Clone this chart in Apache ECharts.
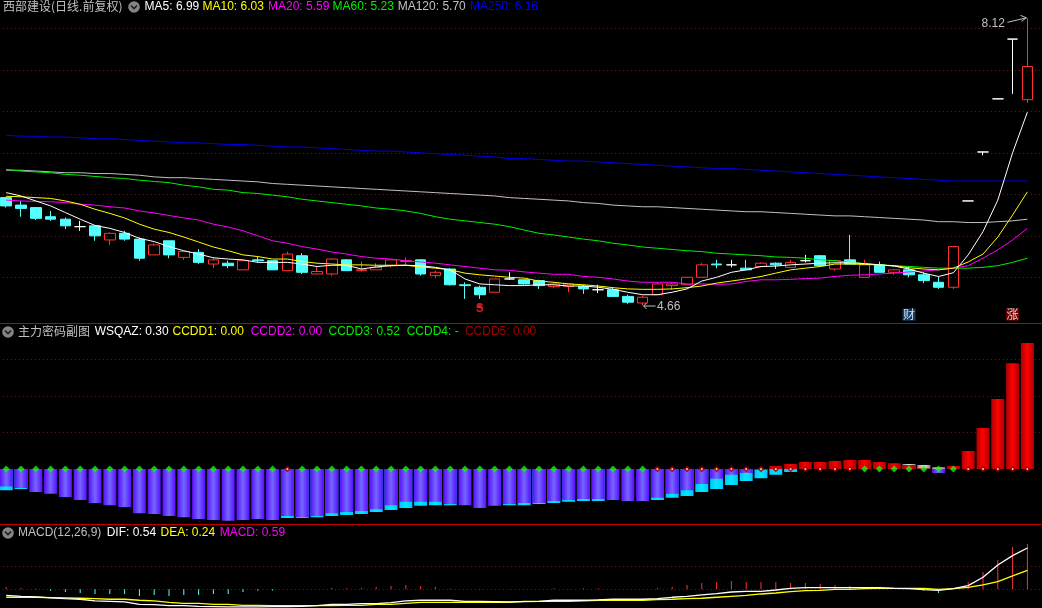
<!DOCTYPE html>
<html><head><meta charset="utf-8">
<style>html,body{margin:0;padding:0;background:#000}#c{width:1042px;height:608px}</style>
<script src="https://cdn.jsdelivr.net/npm/echarts@6/dist/echarts.min.js"></script>
</head><body><div id="c"></div>
<script>
// ---------- data ----------
// [open, close, low, high]
const ohlc = [
[5.96,5.86,5.84,5.97],[5.87,5.83,5.73,5.92],[5.84,5.71,5.69,5.84],[5.73,5.70,5.68,5.80],[5.70,5.62,5.58,5.72],
[5.61,5.61,5.56,5.68],[5.62,5.50,5.44,5.62],[5.45,5.53,5.39,5.54],[5.53,5.46,5.44,5.56],[5.46,5.23,5.20,5.48],
[5.27,5.39,5.27,5.41],[5.44,5.27,5.23,5.44],[5.24,5.31,5.21,5.31],[5.30,5.18,5.16,5.34],[5.16,5.21,5.11,5.24],
[5.17,5.14,5.11,5.20],[5.09,5.20,5.09,5.21],[5.21,5.20,5.18,5.25],[5.20,5.09,5.09,5.20],[5.08,5.28,5.08,5.31],
[5.26,5.06,5.04,5.29],[5.04,5.07,5.04,5.13],[5.04,5.22,5.02,5.23],[5.21,5.08,5.08,5.22],[5.08,5.09,5.07,5.19],
[5.09,5.12,5.09,5.17],[5.14,5.21,5.12,5.21],[5.19,5.20,5.15,5.24],[5.21,5.04,5.02,5.22],[5.02,5.06,4.99,5.08],
[5.10,4.91,4.90,5.11],[4.91,4.90,4.74,4.94],[4.88,4.79,4.74,4.90],[4.82,4.98,4.82,4.98],[4.98,4.98,4.97,5.06],
[4.97,4.92,4.91,4.97],[4.96,4.90,4.86,4.97],[4.89,4.92,4.87,4.94],[4.89,4.92,4.82,4.92],[4.89,4.86,4.80,4.91],
[4.85,4.85,4.81,4.91],[4.85,4.77,4.77,4.87],[4.77,4.70,4.68,4.79],[4.69,4.76,4.66,4.78],[4.79,4.92,4.79,4.94],
[4.90,4.92,4.85,4.94],[4.91,5.00,4.91,5.00],[5.00,5.15,5.00,5.17],[5.16,5.15,5.11,5.21],[5.15,5.15,5.12,5.21],
[5.11,5.09,5.09,5.21],[5.13,5.17,5.12,5.18],[5.17,5.15,5.10,5.18],[5.12,5.18,5.12,5.21],[5.20,5.20,5.18,5.27],
[5.26,5.14,5.13,5.27],[5.10,5.20,5.08,5.21],[5.21,5.16,5.16,5.51],[5.00,5.15,5.00,5.21],[5.15,5.06,5.06,5.19],
[5.06,5.09,5.03,5.10],[5.09,5.03,5.00,5.13],[5.03,4.96,4.93,5.06],[4.94,4.88,4.86,5.01],[4.88,5.37,4.86,5.37],
[5.92,5.92,5.92,5.92],[6.51,6.51,6.47,6.51],[7.15,7.15,7.15,7.15],[7.87,7.87,7.21,7.87],[7.14,7.54,7.10,8.12]
];
const ma5 = [6.02,5.98,5.92,5.86,5.78,5.70,5.625,5.59,5.54,5.47,5.43,5.37,5.32,5.28,5.235,5.22,5.21,5.18,5.18,5.18,
5.16,5.13,5.145,5.145,5.10,5.125,5.14,5.145,5.14,5.12,5.09,4.98,4.92,4.91,4.90,4.90,4.91,4.91,4.895,4.895,
4.88,4.855,4.82,4.79,4.79,4.82,4.86,4.955,5.00,5.06,5.09,5.13,5.135,5.15,5.16,5.17,5.175,5.175,5.165,5.15,
5.135,5.10,5.05,5.01,5.055,5.27,5.55,5.93,6.50,6.99];
const ma10 = [5.976,5.97,5.96,5.95,5.92,5.88,5.82,5.77,5.715,5.64,5.58,5.54,5.485,5.425,5.365,5.32,5.27,5.25,5.22,5.22,
5.19,5.17,5.16,5.15,5.15,5.145,5.145,5.145,5.125,5.11,5.09,5.05,5.03,5.015,5.00,4.99,4.955,4.94,4.92,4.91,
4.895,4.875,4.86,4.855,4.855,4.86,4.875,4.895,4.93,4.955,4.98,5.01,5.05,5.09,5.11,5.13,5.16,5.16,5.155,5.148,
5.14,5.115,5.10,5.09,5.11,5.185,5.28,5.485,5.75,6.03];
const ma20 = [5.93,5.92,5.915,5.91,5.90,5.88,5.87,5.85,5.835,5.80,5.775,5.745,5.715,5.69,5.64,5.606,5.56,5.50,5.44,5.41,
5.37,5.34,5.305,5.28,5.25,5.23,5.22,5.20,5.185,5.17,5.15,5.13,5.11,5.09,5.085,5.065,5.05,5.036,5.036,5.01,
5.00,4.98,4.955,4.94,4.94,4.94,4.92,4.92,4.915,4.92,4.95,4.97,4.97,4.975,4.985,4.99,5.01,5.025,5.03,5.04,
5.05,5.065,5.075,5.09,5.11,5.14,5.23,5.33,5.45,5.59];
const ma60 = [6.30,6.28,6.27,6.26,6.24,6.23,6.215,6.20,6.19,6.17,6.155,6.14,6.11,6.09,6.06,6.05,6.02,6.01,5.99,5.97,
5.94,5.92,5.90,5.88,5.86,5.835,5.82,5.80,5.77,5.73,5.70,5.68,5.66,5.64,5.61,5.57,5.53,5.51,5.485,5.46,
5.44,5.41,5.39,5.365,5.35,5.335,5.32,5.31,5.29,5.28,5.27,5.26,5.245,5.24,5.23,5.21,5.20,5.18,5.165,5.15,
5.14,5.13,5.12,5.11,5.11,5.11,5.12,5.14,5.18,5.23];
const ma120 = [6.29,6.29,6.28,6.27,6.26,6.26,6.25,6.25,6.24,6.23,6.21,6.20,6.20,6.19,6.18,6.17,6.16,6.15,6.13,6.12,
6.11,6.10,6.09,6.08,6.07,6.06,6.05,6.04,6.03,6.02,6.01,6.00,5.99,5.98,5.96,5.95,5.94,5.93,5.92,5.90,
5.89,5.87,5.86,5.85,5.85,5.84,5.83,5.82,5.81,5.80,5.79,5.79,5.78,5.77,5.76,5.75,5.74,5.74,5.73,5.72,
5.71,5.70,5.69,5.67,5.67,5.66,5.66,5.67,5.68,5.70];
const ma250 = [6.71,6.70,6.70,6.69,6.69,6.68,6.67,6.67,6.66,6.65,6.64,6.63,6.62,6.62,6.61,6.60,6.60,6.59,6.58,6.57,
6.57,6.56,6.55,6.54,6.53,6.52,6.52,6.51,6.50,6.49,6.48,6.47,6.46,6.45,6.43,6.43,6.42,6.41,6.40,6.40,
6.39,6.38,6.37,6.36,6.35,6.34,6.33,6.32,6.31,6.31,6.30,6.29,6.28,6.27,6.26,6.25,6.24,6.23,6.22,6.21,
6.20,6.19,6.18,6.17,6.16,6.16,6.16,6.16,6.16,6.16];
// 主力密码副图 columns
const wsPurple = [-.048,-.052,-.063,-.068,-.077,-.085,-.093,-.099,-.104,-.121,-.123,-.129,-.132,-.137,-.140,-.142,-.140,-.137,-.140,-.129,
-.132,-.129,-.121,-.118,-.115,-.110,-.099,-.090,-.090,-.090,-.096,-.099,-.107,-.101,-.096,-.093,-.093,-.088,-.085,-.082,
-.082,-.085,-.088,-.088,-.079,-.068,-.058,-.041,-.027,-.016,-.011,-.003,0,0,0,0,0,0,0,0,
0,0,0,-.011,0,0,0,0,0,0];
const wsCyan = [-.058,-.055,0,0,0,0,0,0,0,0,0,0,0,0,0,0,0,0,0,-.134,
-.134,-.132,-.129,-.126,-.123,-.118,-.112,-.107,-.101,-.099,-.099,0,0,0,-.099,-.099,-.096,-.093,-.090,-.088,
-.088,0,0,0,-.085,-.079,-.074,-.063,-.055,-.044,-.033,-.025,-.016,-.008,0,0,0,0,0,0,
0,0,0,0,0,0,0,0,0,0];
const wsRed = [0,0,0,0,0,0,0,0,0,0,0,0,0,0,0,0,0,0,0,0,
0,0,0,0,0,0,0,0,0,0,0,0,0,0,0,0,0,0,0,0,
0,0,0,0,0,0,0,0,0,0,0,0,.008,.014,.019,.019,.022,.025,.025,.019,
.016,.011,.002,0,.008,.049,.112,.192,.290,.345];
const wsSilver = [0,0,0,0,0,0,0,0,0,0,0,0,0,0,0,0,0,0,0,0,
0,0,0,0,0,0,0,0,0,0,0,0,0,0,0,0,0,0,0,0,
0,0,0,0,0,0,0,0,0,0,0,0,0,0,0,0,0,0,0,0,
0,.014,.011,.005,0,0,0,0,0,0];
// baseline diamonds: g = green, r = dark red
const wsFlags = 'gggggggggggggggggggrggggggggggggggggggggggggrrrrrrrrrrrrrrgggggggrrrrr'.split('');
// MACD pane
const dif = [-.078,-.091,-.100,-.113,-.122,-.130,-.152,-.157,-.165,-.196,-.200,-.213,-.213,-.222,-.226,-.230,-.230,-.230,-.226,-.226,
-.222,-.213,-.196,-.196,-.187,-.187,-.174,-.152,-.143,-.143,-.143,-.157,-.157,-.161,-.165,-.161,-.157,-.143,-.143,-.143,
-.139,-.130,-.130,-.130,-.122,-.104,-.091,-.074,-.057,-.035,-.026,-.026,-.009,.013,.022,.022,.022,.022,.022,.022,
.013,.009,-.004,-.013,.009,.048,.157,.317,.439,.539];
const dea = [-.104,-.104,-.104,-.109,-.113,-.117,-.122,-.130,-.130,-.143,-.152,-.170,-.183,-.183,-.196,-.196,-.209,-.209,-.213,-.213,
-.213,-.213,-.213,-.209,-.209,-.196,-.196,-.183,-.170,-.170,-.170,-.170,-.170,-.170,-.170,-.157,-.157,-.157,-.157,-.152,
-.143,-.143,-.143,-.143,-.135,-.130,-.122,-.117,-.104,-.091,-.078,-.061,-.048,-.030,-.017,-.013,0,0,.009,.013,
.013,.013,.013,0,.009,.026,.057,.100,.174,.248];
const macd = [.03,.017,.009,-.02,-.035,-.048,-.06,-.06,-.06,-.087,-.074,-.087,-.074,-.074,-.06,-.06,-.035,-.02,-.017,0,
0,0,.017,.013,.017,.03,.043,.057,.043,.03,.009,0,-.004,0,.004,.004,0,.013,.004,.013,
.013,0,0,0,.017,.03,.057,.083,.096,.109,.096,.096,.096,.083,.083,.07,.057,.043,.03,.013,
0,0,-.02,-.048,0,.096,.226,.383,.552,.59];
const categories = ohlc.map((_, i) => 'D' + (i + 1)).concat(['']);
const markerS = [[32, 4.60, 'S']];
const markerCai = [[61, 4.55, '财']];
const markerZhang = [[68, 4.55, '涨']];
const highLabel = [69, 8.12, '8.12'];
const lowLabel = [43, 4.66, '4.66'];
const titleMain = '西部建设(日线.前复权)';
const titleSub = '主力密码副图';
const titleMacd = 'MACD(12,26,9)';
const legendMain = ['MA5: 6.99','MA10: 6.03','MA20: 5.59','MA60: 5.23','MA120: 5.70','MA250: 6.16'];
const legendSub = ['WSQAZ: 0.30','CCDD1: 0.00','CCDD2: 0.00','CCDD3: 0.52','CCDD4: -','CCDD5: 0.00'];
const legendMacd = ['DIF: 0.54','DEA: 0.24','MACD: 0.59'];

// ---------- styles ----------
const FONT = '"Liberation Sans", Arial, sans-serif';
const CJK = '"Noto Sans CJK SC", sans-serif';
const GRID_RED = '#a80000', NONE = 'rgba(0,0,0,0)';
const hgrad = (a, b) => ({type:'linear',x:0,y:0,x2:1,y2:0,colorStops:[{offset:0,color:a},{offset:.5,color:b},{offset:1,color:a}]});
const bandW = 14.8, gridLeft = -1.2, gridW = bandW * categories.length;
const grids = [
  {left:gridLeft, width:gridW, top:-13.2, height:332, outerBoundsMode:'none'},
  {left:gridLeft, width:gridW, top:323, height:219, outerBoundsMode:'none'},
  {left:gridLeft, width:gridW, top:520.3, height:92, outerBoundsMode:'none'}
];
const xAxes = grids.map((_, i) => ({type:'category', gridIndex:i, data:categories, boundaryGap:true,
  axisLine:{show:false}, axisTick:{show:false}, axisLabel:{show:false}, splitLine:{show:false}}));
const yAx = (i, min, max, interval, colors) => ({type:'value', gridIndex:i, min, max, interval, scale:false,
  axisLine:{show:false}, axisTick:{show:false}, axisLabel:{show:false},
  splitLine:{show:true, lineStyle:{color:colors, type:[1,3], width:1}}});
const R = GRID_RED;
const yAxes = [
  yAx(0, 4.5, 8.5, .5, [NONE,R,R,R,R,R,R,R,NONE]),
  yAx(1, -.2, .4, .1, [NONE,NONE,NONE,R,R,R,NONE]),
  yAx(2, -.3, .9, .3, [NONE,R,R,NONE,NONE])
];
const maLine = (name, data, color) => ({name, type:'line', data, xAxisIndex:0, yAxisIndex:0, showSymbol:false, symbol:'none',
  lineStyle:{color, width:1}, silent:true, z:3});
const colBar = (name, data, color) => ({name, type:'bar', xAxisIndex:1, yAxisIndex:1, barWidth:13, barGap:'-100%',
  data:data.map(v => v === 0 ? null : v), itemStyle:{color}, silent:true});
const flagSeries = (flag, color, size) => ({type:'scatter', xAxisIndex:1, yAxisIndex:1, symbol:'diamond', symbolSize:size,
  data:wsFlags.map((f, i) => f === flag ? [i, 0] : null).filter(Boolean), itemStyle:{color}, silent:true, z:5});
const tagSeries = (rows, bg, fg) => ({type:'scatter', xAxisIndex:0, yAxisIndex:0, symbolSize:1, itemStyle:{color:NONE}, silent:true, z:6,
  data:rows.map(r => [r[0], r[1], r[2]]),
  label:{show:true, position:'inside', formatter:p => p.data[2], color:fg, backgroundColor:bg,
    fontFamily:CJK, fontSize:12, lineHeight:12, width:13, height:12, align:'center', verticalAlign:'middle', padding:0}});

const option = {
  animation:false, backgroundColor:'#000',
  grid:grids, xAxis:xAxes, yAxis:yAxes,
  series:[
    {type:'candlestick', xAxisIndex:0, yAxisIndex:0, barWidth:11, silent:true, z:2, data:ohlc,
      itemStyle:{color:NONE, color0:'#54ffff', borderColor:'#ff3232', borderColor0:'#54ffff', borderColorDoji:'#ffffff', borderWidth:1}},
    maLine('MA250', ma250, '#0000e6'),
    maLine('MA120', ma120, '#c0c0c0'),
    maLine('MA60', ma60, '#00f000'),
    maLine('MA20', ma20, '#ff00ff'),
    maLine('MA10', ma10, '#ffff00'),
    maLine('MA5', ma5, '#ffffff'),
    colBar('cyan', wsCyan, hgrad('#00c4ff','#00eaff')),
    colBar('purple', wsPurple, hgrad('#5a0cff','#7468ff')),
    colBar('silver', wsSilver, hgrad('#8c8c8c','#e8e8e8')),
    colBar('red', wsRed, hgrad('#b00000','#ff0000')),
    flagSeries('g', '#19f019', 7),
    flagSeries('r', '#a80000', 7),
    Object.assign(flagSeries('r', '#ffffff', 2), {symbol:'circle', z:6}),
    {type:'bar', xAxisIndex:2, yAxisIndex:2, barWidth:1, silent:true, data:macd,
      itemStyle:{color:p => p.value >= 0 ? '#ff3232' : '#54ffff'}},
    {name:'DEA', type:'line', xAxisIndex:2, yAxisIndex:2, data:dea, symbol:'none', lineStyle:{color:'#ffff00', width:1.3}, silent:true, z:3},
    {name:'DIF', type:'line', xAxisIndex:2, yAxisIndex:2, data:dif, symbol:'none', lineStyle:{color:'#ffffff', width:1.3}, silent:true, z:4},
    tagSeries(markerCai, '#174a80', '#ffffff'),
    tagSeries(markerZhang, '#8c0000', '#ffffff'),
    {type:'scatter', xAxisIndex:0, yAxisIndex:0, symbol:'triangle', symbolSize:[7,5], symbolOffset:[0,-5], silent:true, z:6,
      data:markerS.map(r => [r[0], r[1], r[2]]), itemStyle:{color:'#ff2020'},
      label:{show:true, position:'inside', offset:[0,3], formatter:p => p.data[2], color:'#ff2020', fontFamily:FONT, fontWeight:'bold', fontSize:12}}
  ]
};
const chart = echarts.init(document.getElementById('c'), null, {renderer:'canvas', width:1042, height:608});
chart.setOption(option);

// ---------- header rows, separators and the high / low annotations ----------
const txt = (x, y, text, fill, font) => ({type:'text', x, y, silent:true, z:20,
  style:{text, fill, font:font || ('12px ' + FONT), textVerticalAlign:'middle', textBaseline:'middle'}});
const icon = (cx, cy) => [
  {type:'circle', shape:{cx, cy, r:5.8}, style:{fill:'#858585'}, silent:true, z:20},
  {type:'polyline', shape:{points:[[cx-3,cy-1.5],[cx,cy+1.5],[cx+3,cy-1.5]]}, style:{stroke:'#1c1c1c', lineWidth:1.6, fill:null}, silent:true, z:21}
];
const sep = y => ({type:'rect', shape:{x:0, y, width:1042, height:1}, style:{fill:'#c00000'}, silent:true, z:20});
const GRAY = '#c0c0c0', cols = ['#ffffff','#ffff00','#ff00ff','#00f000','#c0c0c0','#0000f0'];
const colsSub = ['#ffffff','#ffff00','#ff00ff','#00f000','#00f000','#a00000'];
const colsMacd = ['#ffffff','#ffff00','#ff00ff'];
const xsMain = [144.6,202.5,268,332.6,397.7,470], xsSub = [94.7,172.5,250.7,328.5,406.7,464.9], xsMacd = [106.7,160.5,219.7];
const els = [sep(323), sep(524)];
els.push(txt(3, 6.5, titleMain, GRAY, '12px ' + CJK), ...icon(134, 7));
legendMain.forEach((t, i) => els.push(txt(xsMain[i], 6.5, t, cols[i])));
els.push(...icon(8, 332), txt(18, 331.5, titleSub, GRAY, '12px ' + CJK));
legendSub.forEach((t, i) => els.push(txt(xsSub[i], 331.5, t, colsSub[i])));
els.push(...icon(8, 533), txt(18, 532.5, titleMacd, GRAY));
legendMacd.forEach((t, i) => els.push(txt(xsMacd[i], 532.5, t, colsMacd[i])));

const hi = chart.convertToPixel({xAxisIndex:0, yAxisIndex:0}, [highLabel[0], highLabel[1]]);
const lo = chart.convertToPixel({xAxisIndex:0, yAxisIndex:0}, [lowLabel[0], lowLabel[1]]);
els.push({type:'text', x:hi[0]-22.5, y:hi[1]+5, silent:true, z:20,
  style:{text:highLabel[2], fill:GRAY, font:'12px '+FONT, textAlign:'right', textVerticalAlign:'middle', textBaseline:'middle'}});
els.push({type:'polyline', shape:{points:[[hi[0]-20,hi[1]+4],[hi[0]-1,hi[1]-0.5]]}, style:{stroke:GRAY, lineWidth:1, fill:null}, silent:true, z:20});
els.push({type:'polyline', shape:{points:[[hi[0]-7,hi[1]-3],[hi[0]-1,hi[1]-0.5],[hi[0]-6,hi[1]+3]]}, style:{stroke:GRAY, lineWidth:1, fill:null}, silent:true, z:20});
els.push({type:'polyline', shape:{points:[[lo[0]+1,lo[1]+0.5],[lo[0]+13,lo[1]+0.5]]}, style:{stroke:GRAY, lineWidth:1, fill:null}, silent:true, z:20});
els.push({type:'polyline', shape:{points:[[lo[0]+4,lo[1]-2.5],[lo[0]+1,lo[1]+0.5],[lo[0]+4,lo[1]+3.5]]}, style:{stroke:GRAY, lineWidth:1, fill:null}, silent:true, z:20});
els.push(txt(lo[0]+14.5, lo[1]+1, lowLabel[2], GRAY));
chart.setOption({graphic:{elements:els}});
</script></body></html>
